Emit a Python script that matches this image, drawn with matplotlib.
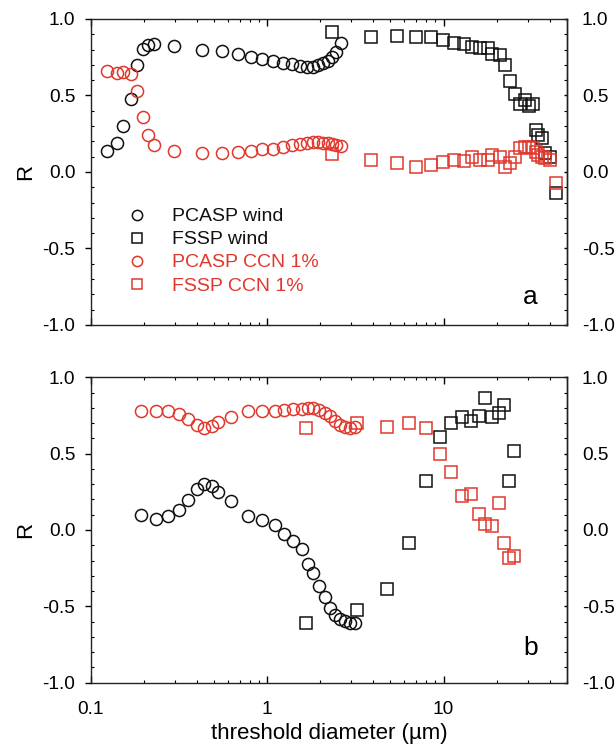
import numpy as np
import matplotlib
matplotlib.use("Agg")
import matplotlib.pyplot as plt
from matplotlib.ticker import MultipleLocator, FixedLocator, FixedFormatter, NullFormatter

plt.rcParams['font.family'] = ['Liberation Sans', 'DejaVu Sans']
plt.rcParams['axes.unicode_minus'] = False

BLACK = '#111111'
RED = '#e0382c'

# ---------------- Panel a ----------------
a_pcasp_x = [0.123, 0.140, 0.152, 0.168, 0.183, 0.198, 0.211, 0.229, 0.296, 0.425,
             0.553, 0.685, 0.809, 0.937, 1.08, 1.23, 1.39, 1.53, 1.67, 1.81,
             1.95, 2.08, 2.20, 2.32, 2.45, 2.62]
a_pcasp_wind = [0.137, 0.188, 0.300, 0.479, 0.697, 0.802, 0.828, 0.839, 0.826, 0.797,
                0.791, 0.771, 0.749, 0.737, 0.725, 0.712, 0.704, 0.695, 0.688, 0.688,
                0.697, 0.710, 0.728, 0.754, 0.786, 0.845]
a_pcasp_ccn = [0.662, 0.645, 0.654, 0.641, 0.531, 0.357, 0.242, 0.176, 0.137, 0.126,
               0.126, 0.131, 0.139, 0.148, 0.152, 0.165, 0.176, 0.183, 0.188, 0.194,
               0.194, 0.190, 0.188, 0.181, 0.174, 0.172]

a_fssp_x = [2.32, 3.86, 5.42, 6.95, 8.48, 9.96, 11.5, 13.0, 14.6, 16.1,
            17.9, 18.9, 20.9, 22.3, 23.8, 25.4, 27.1, 28.9, 30.6, 32.3,
            33.4, 34.5, 36.0, 37.6, 40.1, 43.4]
a_fssp_wind = [0.913, 0.884, 0.891, 0.884, 0.884, 0.863, 0.841, 0.837, 0.815, 0.813,
               0.813, 0.769, 0.765, 0.699, 0.597, 0.508, 0.444, 0.471, 0.431, 0.444,
               0.275, 0.242, 0.220, 0.122, 0.100, -0.135]
a_fssp_ccn = [0.118, 0.078, 0.061, 0.035, 0.046, 0.063, 0.078, 0.074, 0.100, 0.078,
              0.081, 0.111, 0.100, 0.035, 0.057, 0.100, 0.159, 0.165, 0.165, 0.155,
              0.133, 0.110, 0.100, 0.090, 0.080, -0.070]

# ---------------- Panel b ----------------
b_pcasp_x = [0.192, 0.234, 0.275, 0.317, 0.356, 0.398, 0.440, 0.484, 0.527, 0.622,
             0.780, 0.937, 1.11, 1.25, 1.40, 1.57, 1.71, 1.82, 1.97, 2.12,
             2.27, 2.42, 2.58, 2.76, 2.94, 3.14]
b_pcasp_wind = [0.095, 0.074, 0.089, 0.128, 0.198, 0.268, 0.301, 0.290, 0.246, 0.191,
                0.089, 0.063, 0.030, -0.024, -0.070, -0.124, -0.220, -0.281, -0.364, -0.440,
                -0.510, -0.554, -0.582, -0.597, -0.608, -0.608]
b_pcasp_ccn = [0.780, 0.782, 0.780, 0.758, 0.725, 0.688, 0.671, 0.682, 0.710, 0.739,
               0.780, 0.780, 0.782, 0.786, 0.791, 0.793, 0.801, 0.797, 0.786, 0.769,
               0.747, 0.714, 0.688, 0.677, 0.671, 0.677]

b_fssp_x = [1.66, 3.24, 4.80, 6.36, 7.91, 9.54, 11.1, 12.7, 14.3, 15.9,
            17.3, 18.9, 20.6, 22.0, 23.5, 25.1]
b_fssp_wind = [-0.608, -0.521, -0.384, -0.085, 0.318, 0.608, 0.699, 0.739, 0.714, 0.747,
               0.863, 0.743, 0.769, 0.819, 0.318, 0.520]
b_fssp_ccn = [0.671, 0.703, 0.677, 0.703, 0.671, 0.497, 0.379, 0.224, 0.237, 0.106,
              0.039, 0.028, 0.176, -0.085, -0.183, -0.172]

legend_labels = ['PCASP wind', 'FSSP wind', 'PCASP CCN 1%', 'FSSP CCN 1%']
ytick_vals = [-1.0, -0.5, 0.0, 0.5, 1.0]
ytick_labels = ['-1.0', '-0.5', '0.0', '0.5', '1.0']
xtick_vals = [0.1, 1, 10]
xtick_labels = ['0.1', '1', '10']

W, H = 616, 744
fig = plt.figure(figsize=(W / 100, H / 100), dpi=100)

def px_rect(l, t, r, b):
    return [l / W, 1 - b / H, (r - l) / W, (b - t) / H]

ax_a = fig.add_axes(px_rect(91, 19, 566.7, 325))
ax_b = fig.add_axes(px_rect(91, 377.3, 566.7, 682.7))

MS = 8.7
MEW = 1.1

def style(ax, show_x):
    ax.set_xscale('log')
    ax.set_xlim(0.1, 50)
    ax.set_ylim(-1.0, 1.0)
    for sp in ax.spines.values():
        sp.set_linewidth(1.0)
        sp.set_color('#222222')
    ax.yaxis.set_major_locator(FixedLocator(ytick_vals))
    ax.yaxis.set_major_formatter(FixedFormatter(ytick_labels))
    ax.yaxis.set_minor_locator(MultipleLocator(0.1))
    ax.tick_params(axis='y', which='major', direction='out', length=4.3, width=1.0,
                   pad=7, labelsize=13.7, left=True, right=False)
    ax.tick_params(axis='y', which='minor', direction='in', length=2.3, width=0.8,
                   left=True, right=False)
    ax.xaxis.set_major_locator(FixedLocator(xtick_vals))
    ax.xaxis.set_major_formatter(FixedFormatter(xtick_labels))
    ax.xaxis.set_minor_formatter(NullFormatter())
    ax.tick_params(axis='x', which='major', direction='in', length=4.8, width=1.0,
                   top=True, bottom=True, pad=13, labelsize=13.7, labelbottom=show_x)
    ax.tick_params(axis='x', which='minor', direction='in', length=2.4, width=0.8,
                   top=True, bottom=True)
    sec = ax.secondary_yaxis('right')
    sec.yaxis.set_major_locator(FixedLocator(ytick_vals))
    sec.yaxis.set_major_formatter(FixedFormatter(ytick_labels))
    sec.yaxis.set_minor_locator(MultipleLocator(0.1))
    sec.tick_params(axis='y', which='major', direction='in', length=2.5, width=1.0,
                    pad=11, labelsize=13.7)
    sec.tick_params(axis='y', which='minor', direction='in', length=2.3, width=0.8)
    sec.spines['right'].set_linewidth(1.0)
    sec.spines['right'].set_color('#222222')
    ax.set_ylabel('R', fontsize=16)
    ax.yaxis.set_label_coords(-0.115, 0.5)

def draw(ax, px, pw, pc, fx, fw, fc):
    kw = dict(linestyle='none', mfc='none', ms=MS, mew=MEW, clip_on=False)
    l1, = ax.plot(px, pw, marker='o', mec=BLACK, **kw)
    l2, = ax.plot(fx, fw, marker='s', mec=BLACK, **kw)
    l3, = ax.plot(px, pc, marker='o', mec=RED, **kw)
    l4, = ax.plot(fx, fc, marker='s', mec=RED, **kw)
    return [l1, l2, l3, l4]

handles = draw(ax_a, a_pcasp_x, a_pcasp_wind, a_pcasp_ccn, a_fssp_x, a_fssp_wind, a_fssp_ccn)
draw(ax_b, b_pcasp_x, b_pcasp_wind, b_pcasp_ccn, b_fssp_x, b_fssp_wind, b_fssp_ccn)

style(ax_a, False)
style(ax_b, True)
ax_b.set_xlabel('threshold diameter (µm)', fontsize=16, labelpad=4)

leg = ax_a.legend(handles, legend_labels, loc='upper left',
                  bbox_to_anchor=((120 - 91) / 476, (325 - 200) / 306),
                  frameon=False, fontsize=14, handlelength=1.0, handletextpad=1.3,
                  labelspacing=0.28, borderaxespad=0, markerscale=0.85)
for t, c in zip(leg.get_texts(), [BLACK, BLACK, RED, RED]):
    t.set_color(c)

ax_a.text(0.924, 0.092, 'a', transform=ax_a.transAxes, fontsize=19, ha='center', va='center')
ax_b.text(0.924, 0.115, 'b', transform=ax_b.transAxes, fontsize=19, ha='center', va='center')

fig.savefig('out.png', dpi=100)
